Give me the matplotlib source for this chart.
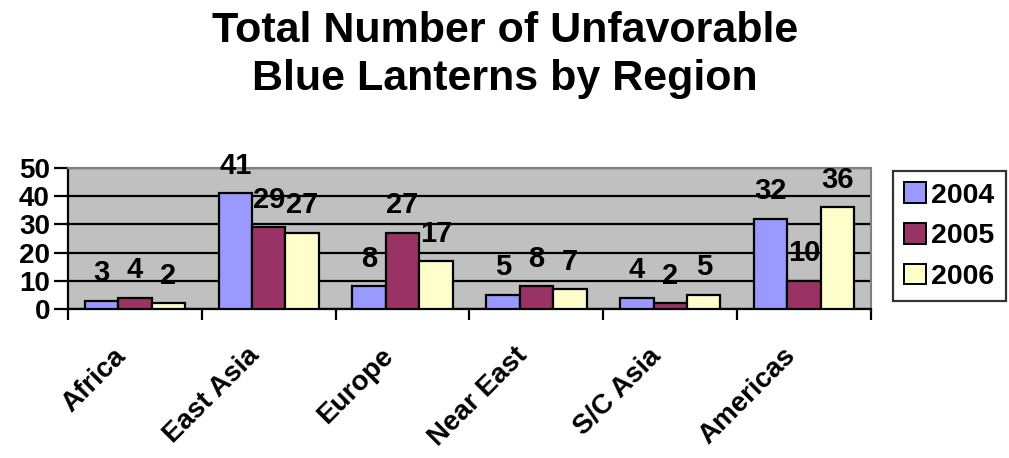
import matplotlib

matplotlib.use("Agg")
import matplotlib.pyplot as plt
import matplotlib.transforms as mtransforms
import numpy as np
from matplotlib.patches import Patch

matplotlib.rcParams["font.family"] = ["Liberation Sans", "DejaVu Sans"]
matplotlib.rcParams["font.weight"] = "bold"

regions = ["Africa", "East Asia", "Europe", "Near East", "S/C Asia", "Americas"]
years = ["2004", "2005", "2006"]
values_2004 = [3, 41, 8, 5, 4, 32]
values_2005 = [4, 29, 27, 8, 2, 10]
values_2006 = [2, 27, 17, 7, 5, 36]

COLORS = ["#9999FF", "#993366", "#FFFFCC"]
PLOT_BG = "#C0C0C0"


def main() -> None:
    fig = plt.figure(figsize=(10.09, 4.58), dpi=100)
    ax = fig.add_axes([68 / 1009, 1 - 309 / 458, (871 - 68) / 1009, (309 - 168) / 458])
    ax.set_facecolor(PLOT_BG)

    x = np.arange(len(regions))
    width = 0.25
    series = [values_2004, values_2005, values_2006]

    handles = []
    for i, (vals, color) in enumerate(zip(series, COLORS)):
        bars = ax.bar(
            x + (i - 1) * width,
            vals,
            width,
            color=color,
            edgecolor="black",
            linewidth=1.6,
            zorder=3,
        )
        for rect, v in zip(bars, vals):
            ax.annotate(
                str(v),
                (rect.get_x() + rect.get_width() / 2, rect.get_height()),
                xytext=(0, 14),
                textcoords="offset points",
                ha="center",
                va="baseline",
                fontsize=21,
                fontweight="bold",
                zorder=4,
                annotation_clip=False,
            )
        handles.append(Patch(facecolor=color, edgecolor="black", linewidth=1.4))

    ax.set_xlim(-0.5, len(regions) - 0.5)
    ax.set_ylim(0, 50)
    ax.set_yticks([0, 10, 20, 30, 40, 50])
    ax.yaxis.grid(True, color="black", linewidth=1.6, zorder=1)
    ax.set_axisbelow(True)

    # category boundaries carry the tick marks, labels sit at the centres
    ax.set_xticks(np.arange(len(regions) + 1) - 0.5, minor=False)
    ax.set_xticklabels([])
    ax.set_xticks(x, minor=True)
    ax.set_xticklabels(regions, minor=True, rotation=45, ha="right",
                       va="center", rotation_mode="anchor", fontsize=20,
                       fontweight="bold")
    ax.tick_params(axis="x", which="minor", length=0, pad=31)
    ax.tick_params(axis="x", which="major", length=8, width=1.6, direction="out")
    ax.tick_params(axis="y", length=10, width=1.6, direction="out", labelsize=20, pad=3)
    shift = mtransforms.ScaledTranslation(-13 / 100, 0, fig.dpi_scale_trans)
    for lab in ax.get_xticklabels(minor=True):
        lab.set_transform(lab.get_transform() + shift)
    for lab in ax.get_yticklabels():
        lab.set_fontweight("bold")

    for side in ["top", "right"]:
        ax.spines[side].set_color("#808080")
        ax.spines[side].set_linewidth(1.5)
    for side in ["left", "bottom"]:
        ax.spines[side].set_color("black")
        ax.spines[side].set_linewidth(1.6)

    leg = fig.legend(
        handles,
        years,
        loc="upper left",
        bbox_to_anchor=(893 / 1009, 1 - 171 / 458),
        frameon=True,
        fancybox=False,
        edgecolor="black",
        handlelength=0.75,
        handleheight=0.75,
        handletextpad=0.2,
        labelspacing=0.5,
        borderpad=0.4,
        borderaxespad=0,
        prop={"weight": "bold", "size": 20.5},
    )
    leg.get_frame().set_linewidth(1.6)

    fig.text(
        505 / 1009,
        1 - 55 / 458,
        "Total Number of Unfavorable\nBlue Lanterns by Region",
        ha="center",
        va="center",
        fontsize=31,
        fontweight="bold",
        linespacing=1.28,
    )

    fig.savefig("out.png", dpi=100)
    plt.close(fig)


if __name__ == "__main__":
    main()
